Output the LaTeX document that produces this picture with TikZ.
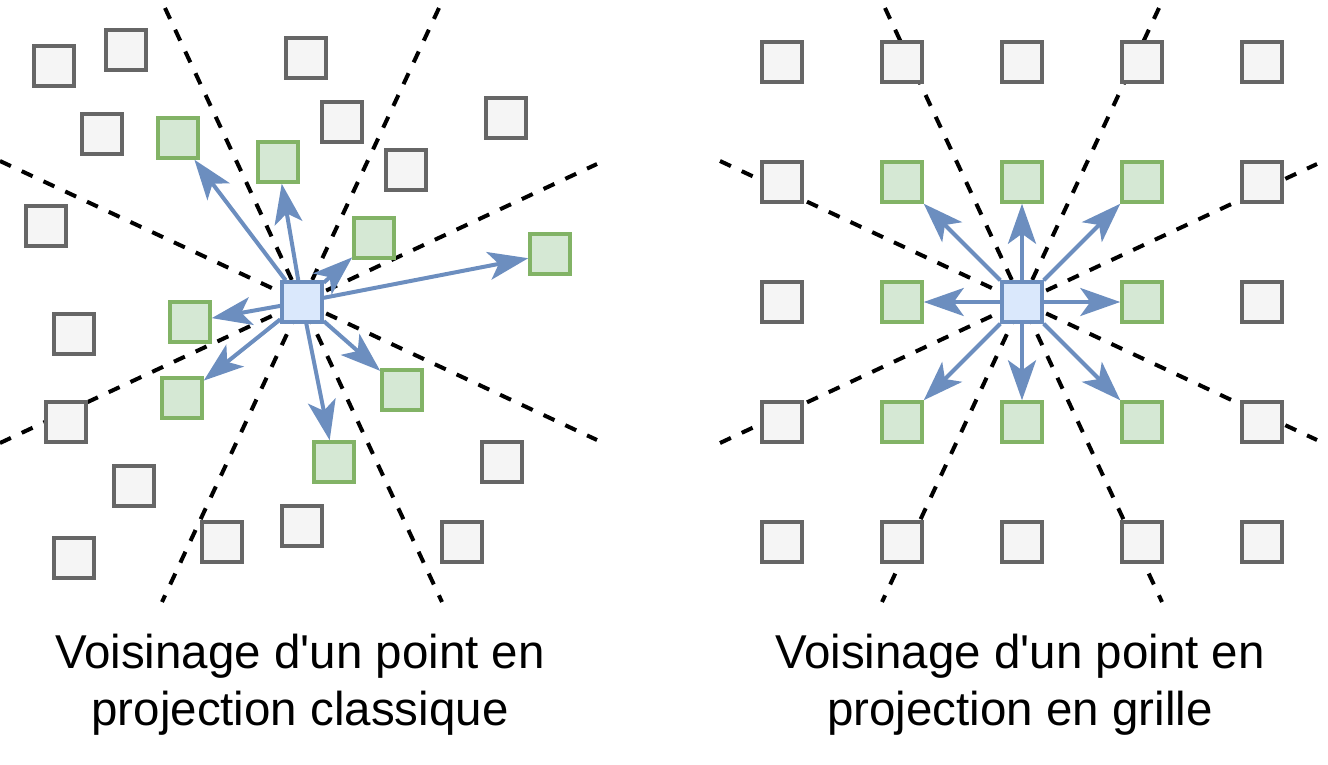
\documentclass[tikz,border=0pt]{standalone}
\usepackage{fontspec}
\setmainfont{Liberation Sans}
\usetikzlibrary{arrows.meta}
\definecolor{grayfill}{HTML}{F5F5F5}
\definecolor{graystroke}{HTML}{666666}
\definecolor{greenfill}{HTML}{D5E8D4}
\definecolor{greenstroke}{HTML}{82B366}
\definecolor{bluefill}{HTML}{DAE8FC}
\definecolor{bluestroke}{HTML}{6C8EBF}
\tikzset{
  sq/.style={rectangle, minimum size=40pt, inner sep=0pt, line width=3.5pt},
  graybox/.style={sq, draw=graystroke, fill=grayfill},
  greenbox/.style={sq, draw=greenstroke, fill=greenfill},
  bluebox/.style={sq, draw=bluestroke, fill=bluefill},
  dline/.style={draw=black, line width=4pt, dash pattern=on 12pt off 12pt},
  arr/.style={draw=bluestroke, line width=4pt, -{Stealth[length=40pt,width=28pt,inset=10pt,fill=bluestroke]}},
  caption/.style={font=\fontsize{47.5}{57}\selectfont, anchor=base, inner sep=0pt}
}
\begin{document}
\begin{tikzpicture}[x=1pt,y=-1pt]
\useasboundingbox (0,0) rectangle (1328,764);
% ---------- left panel: dashed sector lines ----------
\coordinate (la1) at (165,8);   \coordinate (lb1) at (442,602);
\coordinate (la2) at (439,8);   \coordinate (lb2) at (162,602);
\coordinate (la3) at (0,161);   \coordinate (lb3) at (597,440);
\coordinate (la4) at (0,443);   \coordinate (lb4) at (597,164);
\foreach \k in {1,...,4} \draw[dline] (la\k) -- (lb\k);
% ---------- right panel: dashed sector lines ----------
\coordinate (ra1) at (885,8);    \coordinate (rb1) at (1162,602);
\coordinate (ra2) at (1159,8);   \coordinate (rb2) at (882,602);
\coordinate (ra3) at (720,161);  \coordinate (rb3) at (1317,440);
\coordinate (ra4) at (720,443);  \coordinate (rb4) at (1317,164);
\foreach \k in {1,...,4} \draw[dline] (ra\k) -- (rb\k);
% ---------- left panel: points ----------
\node[graybox] (g1) at (54,66) {};
\node[graybox] (g2) at (126,50) {};
\node[graybox] (g3) at (306,58) {};
\node[graybox] (g4) at (102,134) {};
\node[graybox] (g5) at (342,122) {};
\node[graybox] (g6) at (406,170) {};
\node[graybox] (g7) at (506,118) {};
\node[graybox] (g8) at (46,226) {};
\node[graybox] (g9) at (74,334) {};
\node[graybox] (g10) at (66,422) {};
\node[graybox] (g11) at (134,486) {};
\node[graybox] (g12) at (74,558) {};
\node[graybox] (g13) at (222,542) {};
\node[graybox] (g14) at (302,526) {};
\node[graybox] (g15) at (502,462) {};
\node[graybox] (g16) at (462,542) {};
\node[greenbox] (n1) at (178,138) {};
\node[greenbox] (n2) at (278,162) {};
\node[greenbox] (n3) at (374,238) {};
\node[greenbox] (n4) at (550,254) {};
\node[greenbox] (n5) at (190,322) {};
\node[greenbox] (n6) at (182,398) {};
\node[greenbox] (n7) at (402,390) {};
\node[greenbox] (n8) at (334,462) {};
\node[bluebox] (cL) at (302,302) {};
\foreach \k in {1,...,8} \draw[arr] (cL) -- (n\k);
% ---------- right panel: grid ----------
\foreach \i/\j in {0/0,1/0,2/0,3/0,4/0,0/1,4/1,0/2,4/2,0/3,4/3,0/4,1/4,2/4,3/4,4/4}
  \node[graybox] (r\i\j) at ({782+120*\i},{62+120*\j}) {};
\foreach \i/\j in {1/1,2/1,3/1,1/2,3/2,1/3,2/3,3/3}
  \node[greenbox] (r\i\j) at ({782+120*\i},{62+120*\j}) {};
\node[bluebox] (r22) at (1022,302) {};
\foreach \i/\j in {1/1,2/1,3/1,1/2,3/2,1/3,2/3,3/3}
  \draw[arr] (r22) -- (r\i\j);
% ---------- captions ----------
\node[caption] (t1) at (300,668) {Voisinage d\textquotesingle un point en};
\node[caption] (t2) at (300,725) {projection classique};
\node[caption] (t3) at (1020,668) {Voisinage d\textquotesingle un point en};
\node[caption] (t4) at (1020,725) {projection en grille};
\end{tikzpicture}
\end{document}
